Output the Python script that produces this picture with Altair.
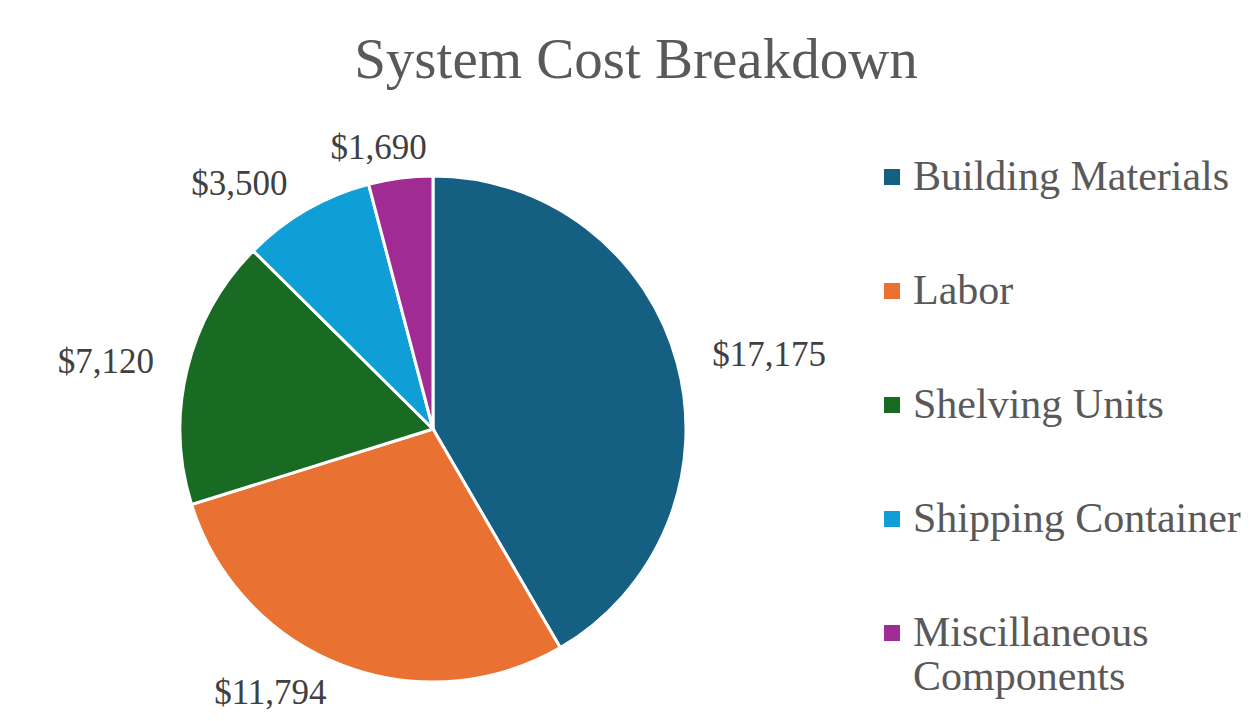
import altair as alt
import pandas as pd

categories = ["Building Materials", "Labor", "Shelving Units", "Shipping Container", "Miscillaneous Components"]
costs = [17175, 11794, 7120, 3500, 1690]
cost_labels = ["$17,175", "$11,794", "$7,120", "$3,500", "$1,690"]
colors = ["#156082", "#E97132", "#196B24", "#0F9ED5", "#A02B93"]

df = pd.DataFrame({
    "category": categories,
    "cost": costs,
    "label": cost_labels,
    "order": list(range(len(categories))),
})

base = (
    alt.Chart(df)
    .transform_window(cum="sum(cost)", sort=[{"field": "order"}])
    .transform_joinaggregate(total="sum(cost)")
    .transform_calculate(mid="datum.cum - datum.cost / 2")
    .transform_calculate(frac="datum.mid / datum.total")
)

color_scale = alt.Scale(domain=categories, range=colors)

arcs = base.mark_arc(outerRadius=253, stroke="white", strokeWidth=3).encode(
    theta=alt.Theta("cost:Q", stack=True),
    color=alt.Color(
        "category:N",
        scale=color_scale,
        sort=categories,
        legend=alt.Legend(
            title=None,
            orient="none",
            legendX=863,
            legendY=7,
            padding=0,
            symbolType="square",
            symbolSize=256,
            symbolStrokeWidth=0,
            labelFont="Liberation Serif",
            labelFontSize=42,
            labelColor="#595959",
            labelLimit=500,
            labelOffset=0,
            rowPadding=72,
            labelExpr="datum.label == 'Miscillaneous Components' ? ['Miscillaneous', 'Components'] : datum.label",
        ),
    ),
    order=alt.Order("order:Q"),
)

def label_layer(cond, align, dx=0):
    return (
        base.transform_filter(cond)
        .mark_text(radius=283, align=align, baseline="middle", dx=dx,
                   font="Liberation Serif", fontSize=35, color="#404040")
        .encode(theta=alt.Theta("mid:Q", stack=False), text="label:N")
    )

t_right = label_layer("datum.frac > 0.03 && datum.frac < 0.5", "left", dx=6)
t_left = label_layer("datum.frac >= 0.5 && datum.frac < 0.97", "right", dx=-4)
t_center = label_layer("datum.frac <= 0.03 || datum.frac >= 0.97", "center", dx=-18)

chart = (
    alt.layer(arcs, t_right, t_left, t_center)
    .properties(
        width=850,
        height=560,
        title=alt.TitleParams(
            "System Cost Breakdown",
            font="Liberation Serif",
            fontSize=57,
            fontWeight="normal",
            color="#595959",
            offset=41,
            dx=203,
        ),
        padding={"left": 0, "right": 0, "top": 24, "bottom": 0},
    )
    .configure_view(strokeWidth=0)
)

chart.save("out.html", embed_options={"renderer": "svg", "actions": False})
